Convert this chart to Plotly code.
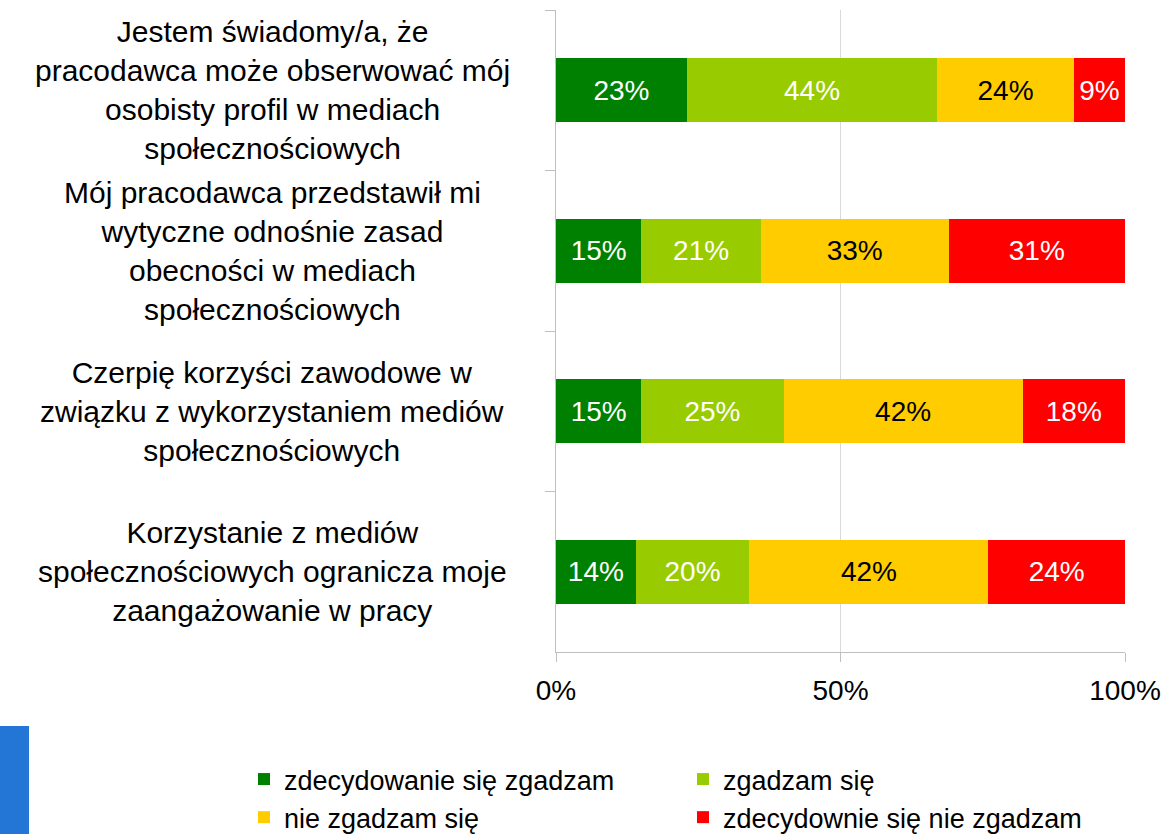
import plotly.graph_objects as go

# Survey statements (top to bottom) and answer shares in %
statements = [
    "Jestem świadomy/a, że<br>pracodawca może obserwować mój<br>osobisty profil w mediach<br>społecznościowych",
    "Mój pracodawca przedstawił mi<br>wytyczne odnośnie zasad<br>obecności w mediach<br>społecznościowych",
    "Czerpię korzyści zawodowe w<br>związku z wykorzystaniem mediów<br>społecznościowych",
    "Korzystanie z mediów<br>społecznościowych ogranicza moje<br>zaangażowanie w pracy",
]
answers = [
    "zdecydowanie się zgadzam",
    "zgadzam się",
    "nie zgadzam się",
    "zdecydownie się nie zgadzam",
]
strongly_agree = [23, 15, 15, 14]
agree = [44, 21, 25, 20]
disagree = [24, 33, 42, 42]
strongly_disagree = [9, 31, 18, 24]
x_ticks = [0, 50, 100]
x_tick_labels = ["0%", "50%", "100%"]

colors = ["#008000", "#99CC00", "#FFCC00", "#FF0000"]
text_colors = ["white", "white", "black", "white"]
series = [strongly_agree, agree, disagree, strongly_disagree]

W, H = 1165, 834
# plot area in pixels: x 556..1125, y 10..652
L, R, T, B = 556, W - 1125, 10, H - 652
PW, PH = W - L - R, H - T - B


def px_x(p):
    return (p - L) / PW


def px_y(p):
    return (H - B - p) / PH


fig = go.Figure()
for name, vals, col, tcol in zip(answers, series, colors, text_colors):
    fig.add_trace(go.Bar(
        y=list(range(len(statements))),
        x=vals,
        name=name,
        orientation="h",
        width=0.4,
        marker=dict(color=col, line=dict(width=0)),
        text=vals,
        texttemplate="%{text}%",
        textposition="inside",
        insidetextanchor="middle",
        textangle=0,
        textfont=dict(color=tcol, size=28),
    ))

# category labels, centred lines in a block left of the axis
for i, s in enumerate(statements):
    fig.add_annotation(
        x=px_x(272), xref="paper", xanchor="center",
        y=i, yref="y", yanchor="middle",
        text=s, showarrow=False, align="center",
        font=dict(size=30, color="black"),
    )

# 50% gridline
fig.add_shape(type="line", xref="x", yref="paper", x0=50, x1=50, y0=0, y1=1,
              line=dict(color="#D9D9D9", width=1), layer="below")

# blue block in the bottom-left corner
fig.add_shape(type="rect", xref="paper", yref="paper",
              x0=px_x(0), x1=px_x(29), y0=px_y(726), y1=px_y(840),
              fillcolor="#2375D6", line=dict(width=0))

fig.update_layout(
    barmode="stack",
    width=W, height=H,
    margin=dict(l=L, r=R, t=T, b=B, autoexpand=False),
    plot_bgcolor="white",
    paper_bgcolor="white",
    font=dict(family="Liberation Sans, Arial", size=28, color="black"),
    showlegend=True,
    legend=dict(
        orientation="h",
        x=px_x(244), xanchor="left",
        y=px_y(755), yanchor="top",
        entrywidth=394, entrywidthmode="pixels",
        traceorder="normal",
        font=dict(size=27),
        itemclick=False,
    ),
    bargap=0.6,
)
fig.update_xaxes(
    range=[0, 100], tickvals=x_ticks, ticktext=x_tick_labels,
    showgrid=False, zeroline=False,
    showline=True, linecolor="#BFBFBF", linewidth=1,
    ticks="outside", ticklen=9, tickcolor="#BFBFBF",
    ticklabelstandoff=4, ticklabeloverflow="allow",
    tickfont=dict(size=28),
)
fig.update_yaxes(
    type="category", autorange="reversed",
    showticklabels=False, showgrid=False, zeroline=False,
    showline=True, linecolor="#BFBFBF", linewidth=1,
    ticks="outside", ticklen=10, tickcolor="#BFBFBF",
    tickson="boundaries",
)

# drop the default page margin so the figure fills the window
fig.write_html("out.html", config={"displayModeBar": False},
               post_script="document.body.style.margin = '0';")
